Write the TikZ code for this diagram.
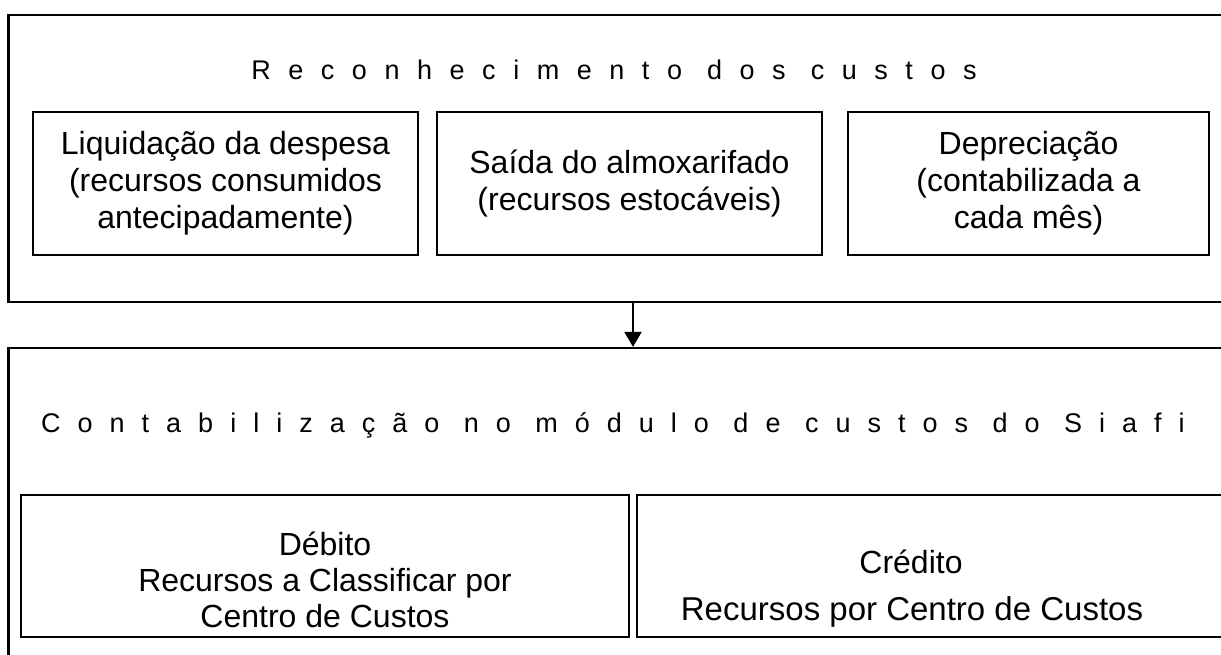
\documentclass[tikz,border=0pt]{standalone}
\usepackage{fontspec}
\setmainfont{Liberation Sans}
\usetikzlibrary{arrows.meta}
\tikzset{
  box/.style={draw=black, line width=2.2pt, inner sep=0pt, align=center, font=\fontsize{32}{37}\selectfont},
  boxtext/.style={inner sep=0pt, align=center, font=\fontsize{32}{36}\selectfont},
  outer/.style={draw=black, line width=2.2pt, inner sep=0pt},
  ttl/.style={inner sep=0pt, font=\fontsize{27}{30}\selectfont},
  conn/.style={draw=black, line width=2.2pt, -{Triangle[width=17pt,length=15pt]}}
}
\begin{document}
\begin{tikzpicture}[x=1pt,y=-1pt]
\useasboundingbox (0,0) rectangle (1221,655);
\clip (0,0) rectangle (1221,655);
% outer frames
\node[outer, minimum width=1241.5pt, minimum height=287pt] (top) at (629.25,158.5) {};
\node[outer, minimum width=1241.5pt, minimum height=380pt] (bot) at (629.25,538) {};
% titles
\node[ttl] (t1) at (614,70) {\addfontfeature{LetterSpace=65}Reconhecimento dos custos};
\node[ttl] (t2) at (613,425) {\addfontfeature{LetterSpace=63}Contabilização no módulo de custos do Siafi};
% top inner boxes
\node[box, minimum width=385pt, minimum height=143pt] (b1) at (225.5,183.5) {Liquidação da despesa\\(recursos consumidos\\antecipadamente)};
\node[box, minimum width=385pt, minimum height=143pt] (b2) at (629.5,183.5) {Saída do almoxarifado\\(recursos estocáveis)};
\node[box, minimum width=361pt, minimum height=143pt] (b3) at (1028.5,183.5) {Depreciação\\(contabilizada a\\cada mês)};
% bottom inner boxes
\node[box, minimum width=608pt, minimum height=142pt] (b4) at (325,566) {};
\node[boxtext] (d4) at (325,580) {Débito\\Recursos a Classificar por\\Centro de Custos};
\node[box, minimum width=600pt, minimum height=142pt] (b5) at (937,566) {};
\node[boxtext] (c1) at (911,562) {Crédito};
\node[boxtext, font=\fontsize{33}{37}\selectfont] (c2) at (912,612) {Recursos por Centro de Custos};
% connector
\coordinate (ax) at (633,0);
\draw[conn] (top.south -| ax) -- (bot.north -| ax);
\end{tikzpicture}
\end{document}
